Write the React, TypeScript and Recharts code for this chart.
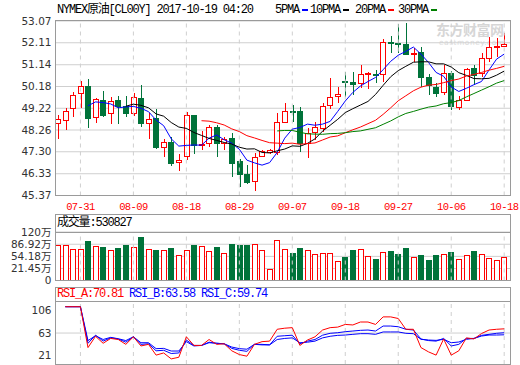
import React from "react";
import {
  ComposedChart,
  Bar,
  Line,
  XAxis,
  YAxis,
  CartesianGrid,
  ReferenceLine,
} from "recharts";

// trading days shown on the chart
const dates = [
  "07-26", "07-27", "07-28", "07-31", "08-01", "08-02", "08-03", "08-04", "08-07", "08-08",
  "08-09", "08-10", "08-11", "08-14", "08-15", "08-16", "08-17", "08-18", "08-21", "08-22",
  "08-23", "08-24", "08-25", "08-28", "08-29", "08-30", "08-31", "09-01", "09-04", "09-05",
  "09-06", "09-07", "09-08", "09-11", "09-12", "09-13", "09-14", "09-15", "09-18", "09-19",
  "09-20", "09-21", "09-22", "09-25", "09-26", "09-27", "09-28", "09-29", "10-02", "10-03",
  "10-04", "10-05", "10-06", "10-10", "10-11", "10-12", "10-13", "10-16", "10-17", "10-18",
];

const opens = [
  48.56, 48.70, 49.22, 49.88, 50.20, 48.85, 49.57, 49.00, 49.58, 49.33,
  49.02, 49.67, 48.56, 48.79, 47.52, 47.74, 46.84, 47.13, 48.92, 47.62,
  47.67, 48.41, 47.67, 47.89, 46.89, 46.32, 46.02, 47.13, 47.27, 47.28,
  48.63, 49.12, 49.10, 47.67, 48.16, 48.34, 49.36, 49.75, 50.43, 50.36,
  50.32, 50.73, 50.73, 50.72, 52.14, 52.11, 52.06, 51.63, 51.72, 50.59,
  50.17, 49.95, 50.78, 49.29, 49.58, 50.98, 50.76, 51.45, 51.92, 51.98,
];
const highs = [
  48.92, 49.22, 49.92, 50.42, 50.50, 49.69, 49.98, 49.73, 49.77, 49.77,
  49.88, 50.25, 49.00, 49.17, 47.86, 47.96, 47.19, 49.07, 48.92, 48.22,
  48.48, 48.48, 47.96, 48.14, 46.99, 46.70, 47.23, 47.38, 47.40, 49.00,
  49.44, 49.36, 49.29, 48.33, 48.60, 49.44, 50.54, 50.17, 50.83, 50.81,
  51.13, 50.83, 50.91, 52.28, 52.41, 52.94, 52.97, 51.87, 51.94, 50.73,
  50.32, 51.13, 50.86, 49.76, 51.01, 51.13, 51.64, 52.38, 52.31, 52.53,
];
const lows = [
  47.86, 48.26, 48.85, 49.22, 48.36, 48.58, 48.82, 48.51, 48.51, 48.85,
  48.89, 48.41, 47.86, 47.41, 47.05, 46.67, 46.46, 46.94, 47.20, 47.38,
  47.50, 47.08, 47.38, 46.17, 45.76, 45.88, 45.58, 47.08, 47.22, 47.16,
  48.56, 48.60, 47.30, 47.01, 47.82, 48.18, 49.17, 49.44, 49.73, 49.80,
  50.13, 50.07, 50.32, 50.39, 51.67, 51.64, 51.57, 51.27, 50.17, 49.80,
  49.73, 49.80, 49.14, 49.16, 49.54, 50.25, 50.61, 51.27, 51.49, 51.94,
];
const closes = [
  48.75, 49.11, 49.80, 50.20, 48.80, 49.61, 48.93, 49.53, 49.33, 49.00,
  49.70, 48.56, 48.76, 47.50, 47.72, 46.82, 46.94, 48.92, 47.59, 47.66,
  48.38, 47.67, 47.86, 46.82, 46.32, 45.98, 47.08, 47.35, 47.36, 48.60,
  49.11, 49.10, 47.67, 48.11, 48.38, 49.32, 49.73, 49.84, 50.41, 50.29,
  50.72, 50.76, 50.71, 52.13, 52.12, 52.08, 51.60, 51.66, 50.61, 50.23,
  49.89, 50.76, 49.32, 49.60, 50.95, 50.69, 51.42, 51.91, 51.96, 52.05,
];

// moving averages as drawn
const ma5 = [
  null, null, null, null, 49.33, 49.50, 49.47, 49.41, 49.24, 49.28,
  49.30, 49.22, 49.07, 48.70, 48.45, 47.87, 47.55, 47.58, 47.60, 47.59,
  47.90, 48.04, 47.83, 47.68, 47.41, 46.93, 46.81, 46.71, 46.82, 47.27,
  47.90, 48.30, 48.37, 48.52, 48.47, 48.52, 48.64, 49.08, 49.54, 49.92,
  50.20, 50.40, 50.58, 50.92, 51.29, 51.56, 51.73, 51.92, 51.61, 51.24,
  50.80, 50.63, 50.16, 49.96, 50.10, 50.26, 50.40, 50.91, 51.39, 51.61,
];
const ma10 = [
  null, null, null, null, null, null, null, null, null, 49.31,
  49.40, 49.35, 49.24, 48.97, 48.87, 48.59, 48.39, 48.33, 48.15, 48.02,
  47.89, 47.80, 47.71, 47.64, 47.50, 47.42, 47.43, 47.27, 47.25, 47.34,
  47.42, 47.56, 47.54, 47.67, 47.87, 48.21, 48.47, 48.73, 49.03, 49.20,
  49.36, 49.52, 49.83, 50.23, 50.61, 50.88, 51.07, 51.25, 51.27, 51.27,
  51.18, 51.18, 51.04, 50.79, 50.67, 50.53, 50.52, 50.54, 50.68, 50.86,
];
const ma20 = [
  null, null, null, null, null, null, null, null, null, null,
  null, null, null, null, null, null, null, null, null, 48.67,
  48.65, 48.58, 48.48, 48.31, 48.19, 48.01, 47.91, 47.80, 47.70, 47.68,
  47.66, 47.68, 47.63, 47.66, 47.69, 47.82, 47.95, 48.00, 48.14, 48.27,
  48.39, 48.54, 48.69, 48.95, 49.24, 49.55, 49.77, 49.99, 50.15, 50.24,
  50.27, 50.35, 50.44, 50.51, 50.64, 50.71, 50.80, 50.90, 50.98, 51.07,
];
const ma30 = [
  null, null, null, null, null, null, null, null, null, null,
  null, null, null, null, null, null, null, null, null, null,
  null, null, null, null, null, null, null, null, null, 48.22,
  48.24, 48.24, 48.16, 48.09, 48.08, 48.07, 48.10, 48.11, 48.14, 48.19,
  48.22, 48.29, 48.36, 48.51, 48.66, 48.84, 48.99, 49.08, 49.18, 49.27,
  49.32, 49.42, 49.47, 49.56, 49.72, 49.87, 50.02, 50.17, 50.33, 50.44,
];

// volume in 万
const volumes = [
  84.5, 84.5, 73.6, 73.6, 96.3, 81.8, 79.9, 70.9, 77.2, 84.5,
  79.1, 107.2, 73.6, 70.9, 70.9, 76.4, 57.3, 70.9, 84.5, 81.8,
  69, 79.1, 62.7, 87.3, 84.5, 84.5, 86.5, 70.9, 21, 98.2,
  73.6, 64.6, 76.4, 70.9, 61.9, 64.6, 64.6, 40.9, 51.8, 70.9,
  73.6, 54.6, 46.4, 65.5, 68.2, 60, 76.4, 51.8, 57.3, 43.6,
  57.3, 61.9, 65.5, 46.4, 59.2, 68.2, 61.9, 49.1, 43.6, 53.08,
];

const rsiA = [
  null, 111.9, 111.9, 111.9, 36, 57, 44, 53, 51, 42,
  56, 39, 42, 22, 26, 15, 18, 56, 40, 40,
  51, 42, 43, 30, 23, 20, 42, 47, 48, 70,
  72, 73, 40, 50, 56, 68.6, 73, 74, 79, 78,
  83.5, 83.5, 79, 93, 93, 90, 70, 70, 36, 28,
  22, 52, 22, 30, 54, 52, 62, 68.6, 70, 70.81,
];
const rsiB = [
  null, 111.9, 111.9, 111.9, 44, 59, 48, 54, 52, 46,
  56, 42, 43, 30, 31, 25, 26, 50, 40, 40,
  46, 44, 43, 34.5, 31, 29, 42, 42, 41, 57,
  58, 59, 43, 48, 51, 59, 62.5, 63.6, 65.5, 66.7,
  68, 68.6, 66.7, 76, 76, 74.7, 70, 68.6, 52, 49,
  48, 53, 39, 42, 53, 53, 58.7, 60.6, 62.5, 63.58,
];
const rsiC = [
  null, 111.9, 111.9, 111.9, 49, 58, 51, 55, 52.4, 49,
  56, 45, 45, 34, 34.5, 29.6, 29.6, 47, 39, 40,
  45, 44, 43, 37, 34, 33, 42, 41, 41, 51,
  53, 54, 45, 46, 48, 54, 57, 58.7, 59.3, 60.6,
  61.8, 61.8, 60.6, 65, 65, 65, 62.5, 61.8, 51.3, 50,
  49.4, 51.3, 45, 46.3, 51.3, 53, 57.4, 59.3, 59.3, 59.74,
];

const priceTicks = [45.37, 46.33, 47.3, 48.26, 49.22, 50.18, 51.14, 52.11, 53.07];
const VOL_FLOOR = -10.91; // bottom of the volume axis, labelled "0"
const volTicks = [VOL_FLOOR, 21.45, 54.18, 86.92, 120];
const rsiTicks = [21, 63, 106];
const dateTickIdx = [3, 10, 17, 24, 31, 38, 45, 52, 59];

const RED = "#ff0000";
const GREEN = "#00733a";
const BLUE = "#0000ff";
const GRID = "#cfcfcf";
const BORDER = "#9a9a9a";
const MONO = "'Liberation Mono', 'Noto Sans CJK SC', monospace";
const SANS = "'DejaVu Sans', 'Noto Sans CJK SC', sans-serif";

const X_DOMAIN: [number, number] = [-0.36, 59.9];

const rows = dates.map((d, i) => ({
  i,
  date: d,
  open: opens[i],
  high: highs[i],
  low: lows[i],
  close: closes[i],
  range: [lows[i], highs[i]],
  up: closes[i] >= opens[i],
  ma5: ma5[i],
  ma10: ma10[i],
  ma20: ma20[i],
  ma30: ma30[i],
  vol: volumes[i],
  volRange: [VOL_FLOOR, volumes[i]],
  rsiA: rsiA[i],
  rsiB: rsiB[i],
  rsiC: rsiC[i],
}));

const Candle = (props: any) => {
  const { x, y, width, height, payload } = props;
  if (x == null || !payload) return null;
  const top = Math.min(y, y + height);
  const h = Math.abs(height);
  const { open, close, high, low, up } = payload;
  const py = (v: number) => top + ((high - v) / (high - low || 1)) * h;
  const n = Math.round(x + width / 2);
  const cx = n + 0.5;
  const color = up ? RED : GREEN;
  const bTop = Math.round(py(Math.max(open, close)));
  const bBot = Math.round(py(Math.min(open, close)));
  const bh = Math.max(1, bBot - bTop);
  return (
    <g>
      <line x1={cx} x2={cx} y1={Math.round(py(high))} y2={Math.round(py(low))} stroke={color} strokeWidth={1} />
      {up ? (
        <rect x={n - 2.5} y={bTop + 0.5} width={5} height={bh} fill="#fff" stroke={color} strokeWidth={1} />
      ) : (
        <rect x={n - 3} y={bTop} width={6} height={bh + 1} fill={color} />
      )}
    </g>
  );
};

const VolBar = (props: any) => {
  const { x, y, width, height, payload } = props;
  if (x == null || !payload) return null;
  const top = Math.round(Math.min(y, y + height));
  const bottom = Math.round(Math.max(y, y + height));
  const n = Math.round(x + width / 2);
  if (payload.up) {
    return (
      <rect x={n - 2.5} y={top + 0.5} width={5} height={bottom - top - 1} fill="#fff" stroke={RED} strokeWidth={1} />
    );
  }
  return <rect x={n - 3} y={top} width={6} height={bottom - top} fill={GREEN} />;
};

const yTick = { fill: "#333", fontSize: 10.5, fontFamily: SANS };

const Box = ({ left, top, width, height }: any) => (
  <div
    style={{
      position: "absolute",
      left,
      top,
      width,
      height,
      border: `1px solid ${BORDER}`,
      boxSizing: "border-box",
      pointerEvents: "none",
    }}
  />
);

const HLine = ({ left, top, width }: any) => (
  <div style={{ position: "absolute", left, top, width, height: 1, background: BORDER }} />
);

const monoText: React.CSSProperties = {
  position: "absolute",
  fontFamily: MONO,
  fontSize: 12,
  letterSpacing: -1.2,
  lineHeight: "14px",
  whiteSpace: "pre",
};

const legendItems = [
  { label: "5PMA", color: BLUE, left: 275 },
  { label: "10PMA", color: "#000", left: 310 },
  { label: "20PMA", color: RED, left: 355 },
  { label: "30PMA", color: "#008000", left: 398 },
];

export default function App() {
  return (
    <div
      style={{
        position: "fixed",
        left: 0,
        top: 0,
        width: 520,
        height: 365,
        background: "#fff",
        overflow: "hidden",
      }}
    >
      {/* watermark */}
      <div
        style={{
          position: "absolute",
          left: 436,
          top: 21,
          fontFamily: "'Noto Sans CJK SC', sans-serif",
          fontWeight: 700,
          fontSize: 14,
          lineHeight: "16px",
          color: "#d6d6d6",
          letterSpacing: -0.5,
        }}
      >
        东方财富网
      </div>
      <div
        style={{
          position: "absolute",
          left: 439,
          top: 38,
          fontFamily: SANS,
          fontSize: 7.5,
          lineHeight: "9px",
          color: "#dcdcdc",
          letterSpacing: 0.5,
        }}
      >
        eastmoney.com
      </div>

      {/* header */}
      <div style={{ ...monoText, left: 57, top: 3, color: "#000" }}>NYMEX原油[CL00Y] 2017-10-19 04:20</div>
      {legendItems.map((it) => (
        <div key={it.label} style={{ ...monoText, left: it.left, top: 3, color: "#000" }}>
          {it.label}
          <span
            style={{
              display: "inline-block",
              width: 6,
              height: 2,
              background: it.color,
              marginLeft: 3,
              verticalAlign: "middle",
            }}
          />
        </div>
      ))}

      {/* price panel */}
      <div style={{ position: "absolute", left: 0, top: 0 }}>
        <ComposedChart width={520} height={212} data={rows} margin={{ top: 21, right: 9, bottom: 0, left: 0 }}>
          <CartesianGrid vertical={false} stroke={GRID} />
          <XAxis
            type="number"
            dataKey="i"
            domain={X_DOMAIN}
            ticks={dateTickIdx}
            interval={0}
            tickFormatter={(v: number) => dates[v]}
            height={16.5}
            axisLine={false}
            tickLine={false}
            tickSize={0}
            tickMargin={7}
            tick={{ fill: RED, fontSize: 10.5, fontFamily: MONO, letterSpacing: -0.6 }}
            allowDataOverflow
          />
          <YAxis
            domain={[45.37, 53.07]}
            ticks={priceTicks}
            interval={0}
            width={55}
            axisLine={false}
            tickLine={false}
            tickSize={0}
            tickMargin={3.5}
            tickFormatter={(v: number) => v.toFixed(2)}
            tick={yTick}
            allowDataOverflow
          />
          {dateTickIdx.map((t) => (
            <ReferenceLine key={t} x={t} stroke={GRID} strokeDasharray="4 4" />
          ))}
          <Bar dataKey="range" barSize={6} shape={Candle} isAnimationActive={false} />
          <Line dataKey="ma5" stroke={BLUE} strokeWidth={1} dot={false} isAnimationActive={false} />
          <Line dataKey="ma10" stroke="#000" strokeWidth={1} dot={false} isAnimationActive={false} />
          <Line dataKey="ma20" stroke={RED} strokeWidth={1} dot={false} isAnimationActive={false} />
          <Line dataKey="ma30" stroke="#008000" strokeWidth={1} dot={false} isAnimationActive={false} />
        </ComposedChart>
      </div>

      {/* volume panel */}
      <div style={{ position: "absolute", left: 0, top: 214 }}>
        <ComposedChart width={520} height={74.5} data={rows} margin={{ top: 18, right: 9, bottom: 8, left: 0 }}>
          <CartesianGrid vertical={false} stroke={GRID} />
          <XAxis type="number" dataKey="i" domain={X_DOMAIN} hide allowDataOverflow />
          <YAxis
            domain={[VOL_FLOOR, 120]}
            ticks={volTicks}
            interval={0}
            width={55}
            axisLine={false}
            tickLine={false}
            tickSize={0}
            tickMargin={3.5}
            tickFormatter={(v: number) => (v <= 0 ? "0" : `${v}万`)}
            tick={yTick}
            allowDataOverflow
          />
          {dateTickIdx.map((t) => (
            <ReferenceLine key={t} x={t} stroke={GRID} strokeDasharray="4 4" />
          ))}
          <Bar dataKey="volRange" barSize={6} shape={VolBar} isAnimationActive={false} />
        </ComposedChart>
      </div>
      <div style={{ ...monoText, left: 57, top: 216, color: "#000" }}>成交量:530827</div>

      {/* RSI panel */}
      <div style={{ position: "absolute", left: 0, top: 287 }}>
        <ComposedChart width={520} height={78} data={rows} margin={{ top: 14, right: 9, bottom: 1, left: 0 }}>
          <XAxis type="number" dataKey="i" domain={X_DOMAIN} hide allowDataOverflow />
          <YAxis
            domain={[5.5, 122.5]}
            ticks={rsiTicks}
            interval={0}
            width={55}
            axisLine={false}
            tickLine={false}
            tickSize={0}
            tickMargin={3.5}
            tick={yTick}
            allowDataOverflow
          />
          <ReferenceLine y={63} stroke={GRID} />
          {dateTickIdx.map((t) => (
            <ReferenceLine key={t} x={t} stroke={GRID} strokeDasharray="4 4" />
          ))}
          <Line dataKey="rsiC" stroke={BLUE} strokeWidth={1} dot={false} isAnimationActive={false} />
          <Line dataKey="rsiB" stroke={BLUE} strokeWidth={1} dot={false} isAnimationActive={false} />
          <Line dataKey="rsiA" stroke={RED} strokeWidth={1} dot={false} isAnimationActive={false} />
        </ComposedChart>
      </div>
      <div style={{ ...monoText, left: 57, top: 287, whiteSpace: "pre" }}>
        <span style={{ color: RED }}>RSI_A:70.81</span>{" "}
        <span style={{ color: BLUE }}>RSI_B:63.58</span>{" "}
        <span style={{ color: BLUE }}>RSI_C:59.74</span>
      </div>

      {/* panel frames */}
      <Box left={55} top={20} width={456} height={176} />
      <Box left={55} top={214} width={456} height={67} />
      <HLine left={55} top={232} width={456} />
      <Box left={55} top={287} width={456} height={78} />
      <HLine left={55} top={301} width={456} />
    </div>
  );
}
